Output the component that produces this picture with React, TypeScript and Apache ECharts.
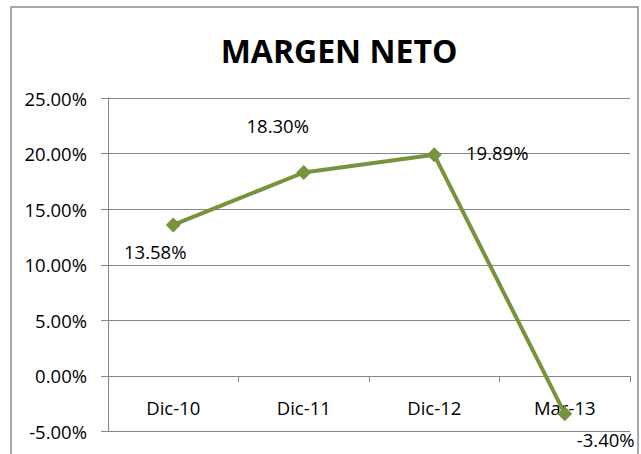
import React, { useEffect, useRef } from "react";
import * as echarts from "echarts";

const categories = ["Dic-10", "Dic-11", "Dic-12", "Mar-13"];
const values = [13.58, 18.3, 19.89, -3.4];
const labelOffsets: [number, number][] = [
  [-18, 27],
  [-26, -47],
  [63, -2],
  [41, 26],
];
const yMin = -5;
const yMax = 25;
const yStep = 5;

const FONT = "'Open Sans', sans-serif";

export default function App() {
  const ref = useRef<HTMLDivElement>(null);
  useEffect(() => {
    document.body.style.margin = "0";
    const chart = echarts.init(ref.current!, undefined, { renderer: "svg" });
    chart.setOption({
      animation: false,
      backgroundColor: "#ffffff",
      title: {
        text: "MARGEN NETO",
        left: 334,
        top: 45,
        textAlign: "center",
        textVerticalAlign: "middle",
        textStyle: {
          fontFamily: FONT,
          fontWeight: "bold",
          fontSize: 32,
          color: "#000000",
        },
      },
      graphic: [
        {
          type: "rect",
          shape: { x: 11, y: 7, width: 627, height: 460 },
          style: { fill: "none", stroke: "#8c8c8c", lineWidth: 1.5 },
          silent: true,
          z: -1,
        },
      ],
      grid: { left: 108, right: 11, top: 98, bottom: 22.5, outerBoundsMode: "none", containLabel: false },
      xAxis: {
        type: "category",
        data: categories,
        boundaryGap: true,
        axisLine: { onZero: true, lineStyle: { color: "#868686", width: 1 } },
        axisTick: { show: true, length: 6, alignWithLabel: false, lineStyle: { color: "#868686" } },
        axisLabel: { fontFamily: FONT, fontSize: 18.5, color: "#000000", margin: -34 },
        splitLine: { show: false },
      },
      yAxis: {
        type: "value",
        min: yMin,
        max: yMax,
        interval: yStep,
        axisLine: { show: true, lineStyle: { color: "#868686", width: 1 } },
        axisTick: { show: true, length: 7, lineStyle: { color: "#868686" } },
        axisLabel: {
          fontFamily: FONT,
          fontSize: 18.5,
          color: "#000000",
          margin: 21,
          formatter: (v: number) => v.toFixed(2) + "%",
        },
        splitLine: { show: true, lineStyle: { color: "#868686", width: 1 } },
      },
      series: [
        {
          type: "line",
          data: values.map((v, i) => ({
            value: v,
            label: { offset: labelOffsets[i] },
          })),
          symbol: "diamond",
          symbolSize: 15,
          lineStyle: { color: "#77933C", width: 4 },
          itemStyle: { color: "#77933C" },
          label: {
            show: true,
            position: "inside",
            fontFamily: FONT,
            fontSize: 18.5,
            color: "#000000",
            formatter: (p: any) => p.value.toFixed(2) + "%",
          },
        },
      ],
    });
    return () => chart.dispose();
  }, []);
  return <div ref={ref} style={{ width: 641, height: 454 }} />;
}
